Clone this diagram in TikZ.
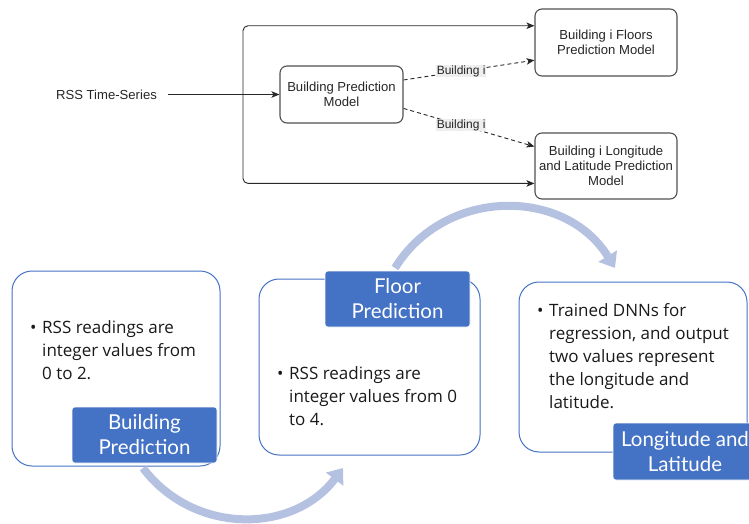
\documentclass[tikz,border=0pt]{standalone}
\usepackage{fontspec}
\setmainfont{Liberation Sans}
\newfontfamily\latofont{Lato}
\newfontfamily\opfont{Open Sans}
\usetikzlibrary{arrows.meta,calc}
\definecolor{accent}{RGB}{68,114,196}
\definecolor{arcc}{RGB}{180,193,225}
\definecolor{lineg}{RGB}{40,40,40}
\definecolor{boxg}{RGB}{80,80,80}
\definecolor{labg}{RGB}{238,238,238}
\newcommand{\tfnt}{\fontsize{13.1}{15}\selectfont}
\newcommand{\sfnt}{\fontsize{12}{13}\selectfont}
\newcommand{\bfnt}{\opfont\fontsize{17}{23}\selectfont}
\newcommand{\lfnt}{\latofont\fontsize{20.5}{25}\selectfont}
\newcommand{\bulletlines}[1]{\begin{tabular}{@{}l@{}l@{}}\makebox[12pt][l]{\textbullet}&#1\end{tabular}}
\begin{document}
\begin{tikzpicture}[x=1pt,y=-1pt,
  txt/.style={font=\tfnt, inner sep=0pt, text=black!85},
  topbox/.style={draw=boxg, line width=1.1pt, rounded corners=7pt, align=center, font=\tfnt, inner sep=0pt, text=black!85},
  conn/.style={draw=lineg, line width=0.9pt, -{Stealth[length=8pt,width=6.5pt,inset=2pt]}},
  dconn/.style={conn, dash pattern=on 4pt off 3pt},
  blab/.style={fill=labg, font=\sfnt, inner sep=0.6pt, text=black!85},
  bbox/.style={draw=accent, line width=1pt, rounded corners=20pt, inner sep=0pt},
  btext/.style={anchor=north west, inner sep=0pt, font=\bfnt, text=black!90},
  lab/.style={fill=accent, draw=white, line width=0.6pt, rounded corners=3pt, text=white, font=\lfnt, align=center, inner sep=0pt},
  arcarrow/.style={draw=arcc, line width=8pt, -{Triangle[length=14pt,width=21pt]}}
]
\useasboundingbox (0,0) rectangle (749,524);

% ---------- top diagram ----------
\node[txt] (rss) at (106.5,94.5) {RSS Time-Series};
\node[topbox, minimum width=123pt, minimum height=57pt] (bpm) at (341.5,94.5) {Building Prediction\\Model};
\node[topbox, minimum width=142pt, minimum height=67pt] (flo) at (606,42.5) {Building i Floors\\Prediction Model};
\node[topbox, minimum width=142pt, minimum height=66pt] (lon) at (606,166) {Building i Longitude\\and Latitude Prediction\\Model};
\coordinate (j) at (243,94.5);

\draw[conn] ($(rss.east)+(11,0)$) -- (bpm.west);
\draw[conn, rounded corners=5pt] (j) |- ($(flo.north west)!0.254!(flo.south west)$);
\draw[conn, rounded corners=5pt] (j) |- ($(lon.north west)!0.76!(lon.south west)$);
\draw[dconn] ($(bpm.north east)!0.25!(bpm.south east)$) -- node[blab, pos=0.44] {Building i} ($(flo.north west)!0.76!(flo.south west)$);
\draw[dconn] ($(bpm.north east)!0.74!(bpm.south east)$) -- node[blab, pos=0.44] {Building i} ($(lon.north west)!0.21!(lon.south west)$);

% ---------- bottom diagram ----------
\node[bbox, minimum width=208pt, minimum height=195pt] (b1) at (116,368.5) {};
\node[bbox, minimum width=221pt, minimum height=176pt] (b2) at (369.5,367) {};
\node[bbox, minimum width=228pt, minimum height=170pt] (b3) at (633,367) {};

\node[btext] (t1) at (30,317) {\bulletlines{RSS readings are\\&integer values from\\&0 to 2.}};
\node[btext] (t2) at (277,363) {\bulletlines{RSS readings are\\&integer values from 0\\&to 4.}};
\node[btext] (t3) at (537,300) {\bulletlines{Trained DNNs for\\&regression, and output\\&two values represent\\&the longitude and\\&latitude.}};

\coordinate (a1s) at (143,468);
\coordinate (a1e) at (343,468);
\coordinate (a2s) at (395,268);
\coordinate (a2e) at (615,268);
\draw[arcarrow] (a1s) .. controls (193,534.6) and (293,534.6) .. (a1e);
\draw[arcarrow] (a2s) .. controls (445,187) and (565,187) .. (a2e);

\node[lab, minimum width=145pt, minimum height=56pt] (l1) at (144.5,435) {Building\\Prediction};
\node[lab, minimum width=145pt, minimum height=56pt] (l2) at (397.5,299) {Floor\\Prediction};
\node[lab, minimum width=144pt, minimum height=57pt] (l3) at (685,451.5) {Longitude and\\Latitude};
\end{tikzpicture}
\end{document}
